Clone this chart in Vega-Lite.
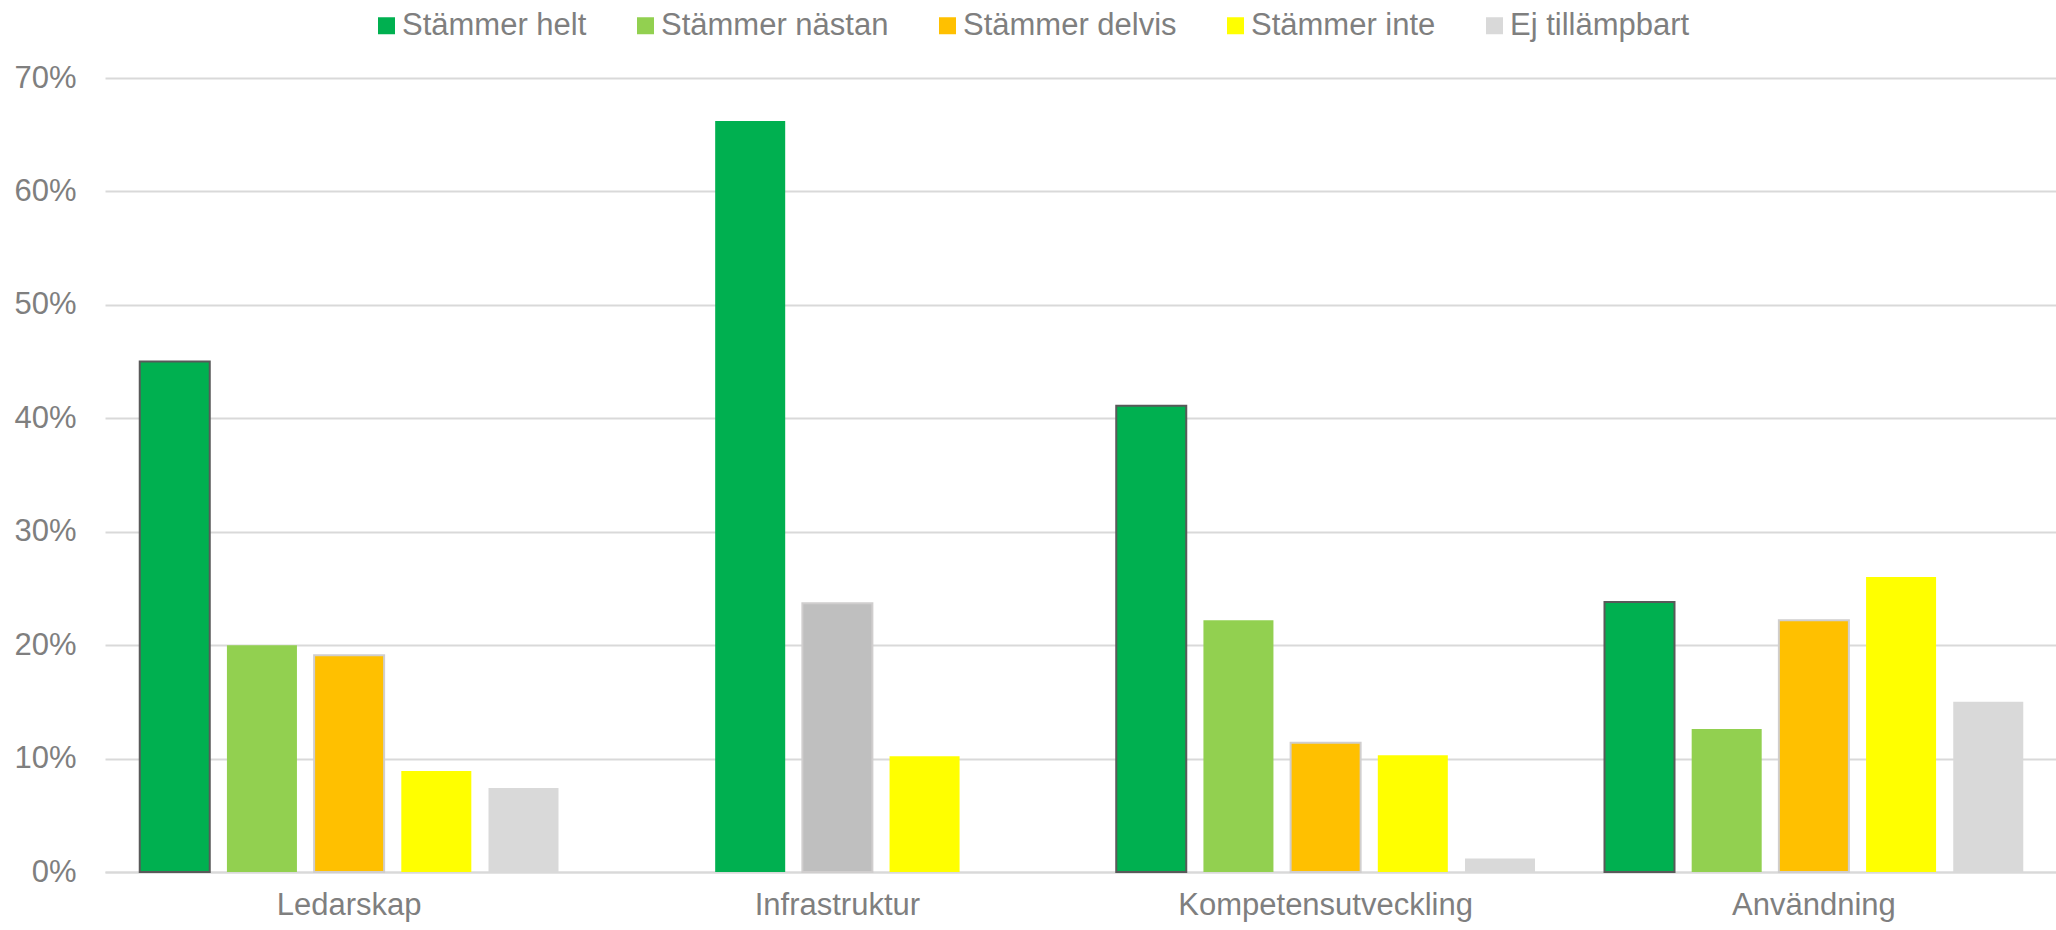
{
  "$schema": "https://vega.github.io/schema/vega-lite/v6.json",
  "autosize": "none",
  "width": 1953,
  "height": 794,
  "padding": {"left": 105, "top": 78, "right": 0, "bottom": 58},
  "background": "white",
  "config": {
    "font": "Liberation Sans",
    "view": {"stroke": null}
  },
  "data": {
    "values": [
      {"kategori": "Ledarskap", "svar": "Stämmer helt", "andel": 0.450},
      {"kategori": "Ledarskap", "svar": "Stämmer nästan", "andel": 0.200},
      {"kategori": "Ledarskap", "svar": "Stämmer delvis", "andel": 0.191},
      {"kategori": "Ledarskap", "svar": "Stämmer inte", "andel": 0.089},
      {"kategori": "Ledarskap", "svar": "Ej tillämpbart", "andel": 0.074},
      {"kategori": "Infrastruktur", "svar": "Stämmer helt", "andel": 0.662},
      {"kategori": "Infrastruktur", "svar": "Stämmer delvis", "andel": 0.237},
      {"kategori": "Infrastruktur", "svar": "Stämmer inte", "andel": 0.102},
      {"kategori": "Kompetensutveckling", "svar": "Stämmer helt", "andel": 0.411},
      {"kategori": "Kompetensutveckling", "svar": "Stämmer nästan", "andel": 0.222},
      {"kategori": "Kompetensutveckling", "svar": "Stämmer delvis", "andel": 0.114},
      {"kategori": "Kompetensutveckling", "svar": "Stämmer inte", "andel": 0.103},
      {"kategori": "Kompetensutveckling", "svar": "Ej tillämpbart", "andel": 0.012},
      {"kategori": "Användning", "svar": "Stämmer helt", "andel": 0.238},
      {"kategori": "Användning", "svar": "Stämmer nästan", "andel": 0.126},
      {"kategori": "Användning", "svar": "Stämmer delvis", "andel": 0.222},
      {"kategori": "Användning", "svar": "Stämmer inte", "andel": 0.260},
      {"kategori": "Användning", "svar": "Ej tillämpbart", "andel": 0.150}
    ]
  },
  "encoding": {
    "x": {
      "field": "kategori",
      "type": "nominal",
      "scale": {"domain": ["Ledarskap", "Infrastruktur", "Kompetensutveckling", "Användning"], "paddingInner": 0, "paddingOuter": 0},
      "axis": {
        "title": null,
        "labelAngle": 0,
        "labelFontSize": 31,
        "labelColor": "#7F7F7F",
        "labelPadding": 18,
        "labelLimit": 480,
        "ticks": false,
        "domain": true,
        "domainColor": "#D9D9D9",
        "domainWidth": 2
      }
    },
    "y": {
      "field": "andel",
      "type": "quantitative",
      "scale": {"domain": [0, 0.7], "nice": false},
      "axis": {
        "title": null,
        "values": [0, 0.1, 0.2, 0.3, 0.4, 0.5, 0.6, 0.7],
        "format": ".0%",
        "labelFontSize": 31,
        "labelColor": "#7F7F7F",
        "labelPadding": 29,
        "ticks": false,
        "domain": false,
        "grid": true,
        "gridColor": "#D9D9D9",
        "gridWidth": 2
      }
    },
    "color": {
      "condition": {"test": "datum.kategori === 'Infrastruktur' && datum.svar === 'Stämmer delvis'", "value": "#BFBFBF"},
      "field": "svar",
      "type": "nominal",
      "scale": {
        "domain": ["Stämmer helt", "Stämmer nästan", "Stämmer delvis", "Stämmer inte", "Ej tillämpbart"],
        "range": ["#00B050", "#92D050", "#FFC000", "#FFFF00", "#D9D9D9"]
      },
      "legend": {
        "title": null,
        "orient": "none",
        "direction": "horizontal",
        "legendX": 266,
        "legendY": -68,
        "padding": 0,
        "symbolType": "square",
        "symbolSize": 289,
        "labelFontSize": 31,
        "labelColor": "#7F7F7F",
        "labelOffset": 0,
        "columnPadding": 43,
        "labelLimit": 400,
        "encode": {
          "symbols": {
            "update": {
              "stroke": {"signal": "datum.value === 'Stämmer helt' ? '#595959' : datum.value === 'Stämmer delvis' ? '#D0CECE' : 'transparent'"},
              "strokeWidth": {"value": 2}
            }
          }
        }
      }
    },
    "stroke": {
      "condition": [
        {"test": "datum.svar === 'Stämmer helt' && datum.kategori !== 'Infrastruktur'", "value": "#595959"},
        {"test": "datum.svar === 'Stämmer delvis'", "value": "#D0CECE"}
      ],
      "value": "transparent"
    }
  },
  "layer": [
    {
      "transform": [{"filter": "datum.kategori !== 'Infrastruktur'"}],
      "mark": {"type": "bar", "strokeWidth": 2},
      "encoding": {
        "xOffset": {
          "field": "svar",
          "type": "nominal",
          "scale": {
            "domain": ["Stämmer helt", "Stämmer nästan", "Stämmer delvis", "Stämmer inte", "Ej tillämpbart"],
            "paddingInner": 0.197,
            "paddingOuter": 0.3985
          }
        }
      }
    },
    {
      "transform": [{"filter": "datum.kategori === 'Infrastruktur'"}],
      "mark": {"type": "bar", "strokeWidth": 2},
      "encoding": {
        "xOffset": {
          "field": "svar",
          "type": "nominal",
          "scale": {
            "domain": ["Stämmer nästan", "Stämmer helt", "Stämmer delvis", "Stämmer inte", "Ej tillämpbart"],
            "paddingInner": 0.197,
            "paddingOuter": 0.3985
          }
        }
      }
    }
  ],
  "resolve": {"scale": {"xOffset": "independent"}}
}
